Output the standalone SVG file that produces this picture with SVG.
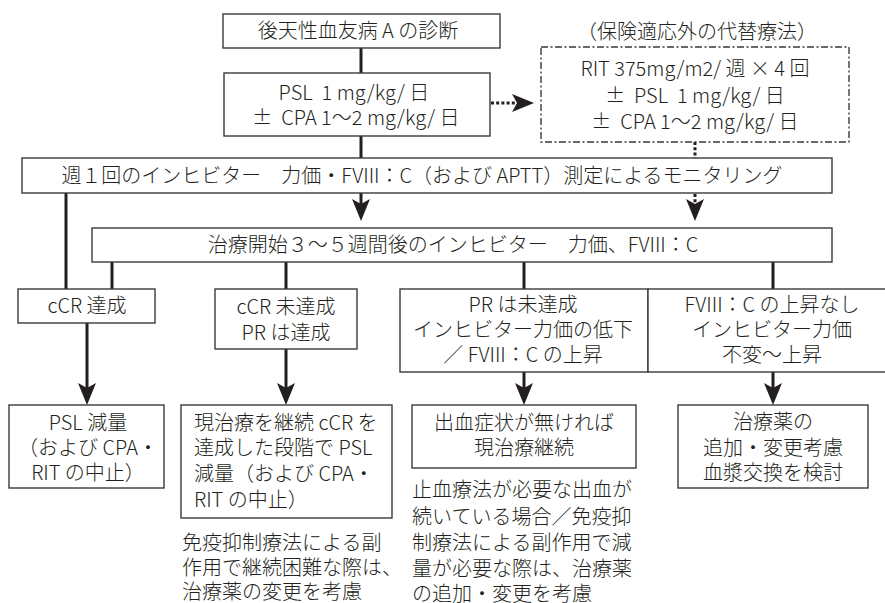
<svg xmlns="http://www.w3.org/2000/svg" width="885" height="603" viewBox="0 0 885 603">
<style>
text{font-family:"Noto Sans CJK JP","Noto Sans",sans-serif;font-size:20px;font-weight:300;fill:#231f20;white-space:pre}
.c{text-anchor:middle}
.box{fill:#fff;stroke:#3a3a3a;stroke-width:1.4}
.dash{fill:#fff;stroke:#3a3a3a;stroke-width:1.4;stroke-dasharray:7 2.5 2 2.5}
.ln{stroke:#231f20;stroke-width:3;fill:none}
.dot{stroke:#231f20;stroke-width:3;fill:none;stroke-dasharray:3 2.2}
</style>
<defs>
<marker id="ah" markerUnits="userSpaceOnUse" viewBox="0 0 22 18" markerWidth="22" markerHeight="18" refX="10" refY="9" orient="auto">
<path d="M0,0 L22,9 L0,18 L5,9 Z" fill="#231f20"/>
</marker>
</defs>
<rect width="885" height="603" fill="#fff"/>
<g id="connectors">
<line class="ln" x1="361" y1="48" x2="361" y2="73"/>
<line class="ln" x1="361" y1="136" x2="361" y2="158"/>
<line class="ln" x1="361" y1="193" x2="361" y2="209" marker-end="url(#ah)"/>
<line class="dot" x1="491" y1="103" x2="522" y2="103" marker-end="url(#ah)"/>
<line class="dot" x1="695" y1="142" x2="695" y2="158"/>
<line class="dot" x1="695" y1="194" x2="695" y2="209" marker-end="url(#ah)"/>
<line class="ln" x1="66" y1="193" x2="66" y2="289"/>
<line class="ln" x1="112" y1="262" x2="112" y2="289"/>
<line class="ln" x1="286" y1="262" x2="286" y2="289"/>
<line class="ln" x1="524" y1="262" x2="524" y2="289"/>
<line class="ln" x1="773" y1="262" x2="773" y2="289"/>
<line class="ln" x1="87" y1="323" x2="87" y2="393" marker-end="url(#ah)"/>
<line class="ln" x1="286" y1="349" x2="286" y2="393" marker-end="url(#ah)"/>
<line class="ln" x1="524" y1="372" x2="524" y2="393" marker-end="url(#ah)"/>
<line class="ln" x1="773" y1="372" x2="773" y2="393" marker-end="url(#ah)"/>
</g>
<g id="n1"><rect class="box" x="223" y="14" width="277" height="34"/><text class="c" x="358" y="38">後天性血友病 A の診断</text></g>
<g id="n2"><rect class="box" x="224" y="73" width="266" height="63"/><text class="c" x="354" y="100">PSL  1 mg/kg/ 日</text><text class="c" x="356" y="125">±  CPA 1～2 mg/kg/ 日</text></g>
<g id="alt-label"><text class="c" x="697" y="39">（保険適応外の代替療法）</text></g>
<g id="n3"><rect class="dash" x="541" y="47" width="308" height="95"/><text class="c" x="695" y="76">RIT 375mg/m2/ 週 × 4 回</text><text class="c" x="695" y="103">±  PSL  1 mg/kg/ 日</text><text class="c" x="695" y="129">±  CPA 1～2 mg/kg/ 日</text></g>
<g id="n4"><rect class="box" x="22" y="158" width="810" height="35"/><text class="c" x="422" y="183">週１回のインヒビター　力価・FVIII：C（および APTT）測定によるモニタリング</text></g>
<g id="n5"><rect class="box" x="92" y="228" width="740" height="34"/><text class="c" x="453" y="252">治療開始３～５週間後のインヒビター　力価、FVIII：C</text></g>
<g id="n6"><rect class="box" x="18" y="289" width="137" height="34"/><text class="c" x="87" y="313">cCR 達成</text></g>
<g id="n7"><rect class="box" x="215" y="289" width="142" height="60"/><text class="c" x="286" y="314">cCR 未達成</text><text class="c" x="286" y="340">PR は達成</text></g>
<g id="n8"><rect class="box" x="400" y="289" width="248" height="83"/><text class="c" x="523" y="312">PR は未達成</text><text class="c" x="523" y="337">インヒビター力価の低下</text><text class="c" x="523" y="362">／ FVIII：C の上昇</text></g>
<g id="n9"><rect class="box" x="648" y="289" width="250" height="83"/><text class="c" x="772" y="312">FVIII：C の上昇なし</text><text class="c" x="772" y="337">インヒビター力価</text><text class="c" x="772" y="362">不変～上昇</text></g>
<g id="n10"><rect class="box" x="9" y="405" width="155" height="83"/><text class="c" x="88" y="430">PSL 減量</text><text class="c" x="88" y="455">（および CPA・</text><text class="c" x="88" y="480">RIT の中止）</text></g>
<g id="n11"><rect class="box" x="181" y="405" width="211" height="113"/><text x="194" y="430">現治療を継続 cCR を</text><text x="194" y="455">達成した段階で PSL</text><text x="194" y="481">減量（および CPA・</text><text x="194" y="507">RIT の中止）</text></g>
<g id="note1"><text x="182" y="550">免疫抑制療法による副</text><text x="182" y="575">作用で継続困難な際は、</text><text x="182" y="599">治療薬の変更を考慮</text></g>
<g id="n12"><rect class="box" x="412" y="405" width="224" height="63"/><text class="c" x="524" y="430">出血症状が無ければ</text><text class="c" x="524" y="455">現治療継続</text></g>
<g id="note2"><text x="412" y="497">止血療法が必要な出血が</text><text x="412" y="524">続いている場合／免疫抑</text><text x="412" y="550">制療法による副作用で減</text><text x="412" y="576">量が必要な際は、治療薬</text><text x="412" y="601">の追加・変更を考慮</text></g>
<g id="n13"><rect class="box" x="678" y="405" width="190" height="83"/><text class="c" x="773" y="429">治療薬の</text><text class="c" x="773" y="455">追加・変更考慮</text><text class="c" x="773" y="480">血漿交換を検討</text></g>
</svg>
